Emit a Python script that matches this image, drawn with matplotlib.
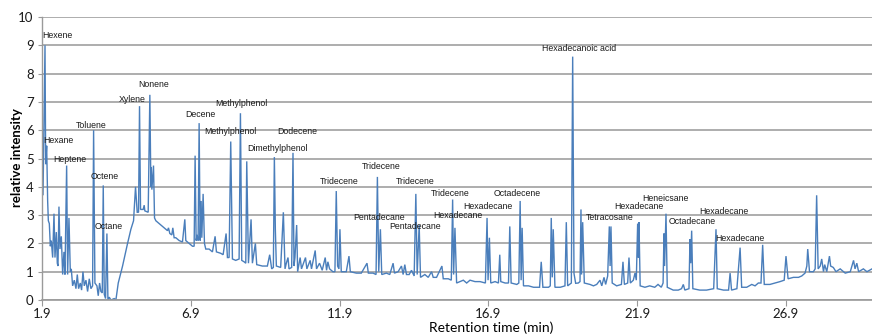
import matplotlib
matplotlib.use("Agg")
import matplotlib.pyplot as plt

# ---------------- data ----------------
retention_time = [
    1.900, 1.934, 2.001, 2.023, 2.057, 2.090, 2.113, 2.146, 2.180, 2.213, 2.258, 2.303, 2.336, 2.381,
    2.414, 2.437, 2.470, 2.504, 2.549, 2.594, 2.638, 2.672, 2.728, 2.761, 2.806, 2.851, 2.884, 2.929,
    2.985, 3.041, 3.086, 3.130, 3.186, 3.231, 3.276, 3.321, 3.377, 3.432, 3.488, 3.544, 3.600, 3.634,
    3.678, 3.746, 3.790, 3.835, 3.880, 3.925, 3.958, 3.992, 4.036, 4.081, 4.115, 4.160, 4.215, 4.327,
    4.383, 4.462, 4.607, 4.775, 4.887, 4.976, 5.043, 5.099, 5.144, 5.177, 5.211, 5.300, 5.334, 5.356,
    5.468, 5.524, 5.558, 5.569, 5.592, 5.647, 5.681, 5.726, 5.837, 5.949, 6.061, 6.117, 6.150, 6.195,
    6.262, 6.296, 6.340, 6.397, 6.509, 6.620, 6.699, 6.732, 6.844, 6.956, 7.012, 7.045, 7.079, 7.113,
    7.146, 7.180, 7.214, 7.247, 7.270, 7.314, 7.359, 7.403, 7.515, 7.627, 7.717, 7.761, 7.907, 7.986,
    8.086, 8.131, 8.187, 8.242, 8.299, 8.410, 8.523, 8.568, 8.612, 8.691, 8.747, 8.780, 8.837, 8.925,
    8.970, 9.070, 9.115, 9.305, 9.473, 9.551, 9.618, 9.674, 9.708, 9.741, 9.775, 9.920, 10.010, 10.066,
    10.110, 10.166, 10.200, 10.289, 10.334, 10.368, 10.400, 10.457, 10.490, 10.574, 10.620, 10.754,
    10.800, 10.911, 10.956, 11.080, 11.125, 11.226, 11.316, 11.417, 11.462, 11.507, 11.563, 11.675,
    11.743, 11.788, 11.833, 11.878, 11.911, 11.956, 12.125, 12.215, 12.260, 12.462, 12.630, 12.821,
    12.866, 13.024, 13.125, 13.170, 13.215, 13.271, 13.316, 13.473, 13.586, 13.698, 13.743, 13.866,
    13.979, 14.035, 14.091, 14.147, 14.237, 14.316, 14.406, 14.462, 14.507, 14.574, 14.619, 14.765,
    14.878, 14.990, 15.046, 15.158, 15.338, 15.383, 15.552, 15.653, 15.698, 15.731, 15.776, 15.832,
    16.057, 16.170, 16.282, 16.451, 16.619, 16.799, 16.855, 16.889, 16.934, 16.979, 17.125, 17.237,
    17.282, 17.316, 17.462, 17.575, 17.619, 17.664, 17.855, 17.922, 17.967, 18.000, 18.034, 18.079,
    18.248, 18.417, 18.619, 18.675, 18.731, 18.922, 18.979, 19.012, 19.046, 19.079, 19.136, 19.316,
    19.473, 19.518, 19.563, 19.687, 19.732, 19.776, 19.832, 19.920, 19.978, 20.011, 20.030, 20.068,
    20.123, 20.314, 20.430, 20.539, 20.650, 20.710, 20.785, 20.840, 20.908, 20.963, 20.990, 21.019,
    21.060, 21.210, 21.370, 21.422, 21.470, 21.580, 21.624, 21.670, 21.770, 21.826, 21.870, 21.915,
    21.940, 21.960, 22.000, 22.160, 22.320, 22.490, 22.600, 22.710, 22.770, 22.800, 22.820, 22.868,
    22.910, 23.110, 23.280, 23.390, 23.450, 23.500, 23.640, 23.674, 23.700, 23.730, 23.770, 24.000,
    24.230, 24.470, 24.514, 24.548, 24.590, 24.800, 24.970, 25.022, 25.070, 25.250, 25.320, 25.358,
    25.410, 25.580, 25.750, 25.860, 25.970, 26.060, 26.116, 26.170, 26.360, 26.530, 26.700, 26.840,
    26.900, 26.970, 27.150, 27.320, 27.430, 27.540, 27.600, 27.630, 27.690, 27.820, 27.880, 27.930,
    27.980, 28.050, 28.100, 28.160, 28.200, 28.270, 28.360, 28.400, 28.490, 28.580, 28.720, 28.890,
    29.060, 29.170, 29.220, 29.280, 29.340, 29.500, 29.620, 29.790,
]
relative_intensity = [
    5.75, 3.70, 9.00, 4.80, 5.45, 3.50, 2.80, 2.70, 1.90, 2.10, 1.50, 3.05, 1.50, 2.40,
    1.30, 1.20, 3.30, 1.80, 2.25, 0.90, 1.70, 0.90, 4.75, 0.90, 2.90, 1.00, 1.10, 0.50,
    0.70, 0.40, 0.90, 0.40, 0.60, 0.35, 1.00, 0.50, 0.70, 0.30, 0.75, 0.40, 0.50, 6.00,
    0.60, 0.50, 0.15, 0.60, 0.30, 0.25, 4.05, 0.20, 0.05, 2.35, 0.00, 0.10, 0.00, 0.05,
    0.00, 0.60, 1.20, 2.00, 2.50, 2.80, 4.00, 3.10, 3.10, 6.85, 3.20, 3.20, 3.35, 3.15,
    3.10, 7.25, 4.00, 4.70, 3.90, 4.75, 2.90, 2.80, 2.70, 2.60, 2.50, 2.45, 2.55, 2.35,
    2.30, 2.55, 2.20, 2.20, 2.10, 2.05, 2.85, 2.10, 2.00, 1.90, 1.90, 5.10, 2.10, 2.30,
    2.10, 6.25, 2.10, 3.50, 2.20, 3.75, 2.00, 1.80, 1.80, 1.70, 2.25, 1.70, 1.65, 1.60,
    2.35, 1.50, 1.50, 5.60, 1.45, 1.40, 1.45, 6.60, 1.40, 1.35, 1.30, 4.90, 1.30, 2.85,
    1.30, 2.00, 1.25, 1.20, 1.20, 1.60, 1.10, 1.15, 5.05, 2.50, 1.20, 1.15, 3.10, 1.10,
    1.30, 1.50, 1.10, 1.15, 5.20, 1.20, 1.50, 2.65, 1.00, 1.50, 1.10, 1.50,
    1.10, 1.40, 1.10, 1.75, 1.10, 1.30, 1.05, 1.50, 1.05, 1.35, 1.10, 1.00,
    1.00, 3.85, 1.20, 1.10, 2.50, 1.00, 1.00, 1.55, 1.00, 0.95, 0.95, 1.30,
    0.95, 0.95, 0.90, 4.35, 1.00, 2.50, 0.90, 0.95, 0.90, 1.30, 0.95, 1.00,
    1.20, 0.90, 1.25, 0.90, 0.90, 1.05, 0.85, 3.75, 0.90, 2.65, 0.80, 0.90,
    0.80, 1.00, 0.80, 0.80, 1.20, 0.75, 0.75, 0.70, 3.55, 0.90, 2.55, 0.60,
    0.70, 0.60, 0.70, 0.65, 0.65, 0.60, 2.90, 0.70, 2.20, 0.60, 0.65, 0.60,
    1.60, 0.65, 0.60, 0.60, 2.60, 0.60, 0.55, 0.60, 3.50, 0.70, 2.55, 0.50,
    0.50, 0.45, 0.45, 1.35, 0.45, 0.45, 0.50, 2.90, 0.80, 2.50, 0.45, 0.45,
    0.50, 2.75, 0.50, 0.60, 8.60, 0.94, 0.59, 0.60, 0.65, 3.20, 0.90, 2.75,
    0.60, 0.55, 0.50, 0.55, 0.70, 0.50, 0.80, 0.55, 0.85, 2.60, 1.20, 2.60,
    0.60, 0.50, 0.55, 1.35, 0.55, 0.60, 1.50, 0.60, 0.70, 0.95, 0.70, 2.70,
    1.50, 2.75, 0.50, 0.45, 0.50, 0.45, 0.55, 0.45, 0.60, 2.35, 1.20, 3.05,
    0.45, 0.35, 0.35, 0.40, 0.55, 0.35, 0.40, 2.15, 1.30, 2.45, 0.40, 0.35,
    0.35, 0.40, 1.60, 2.50, 0.40, 0.35, 0.35, 0.95, 0.35, 0.40, 1.35, 1.85,
    0.45, 0.45, 0.55, 0.50, 0.60, 0.60, 1.95, 0.55, 0.55, 0.60, 0.65, 0.70,
    1.55, 0.75, 0.80, 0.80, 0.85, 0.95, 1.20, 1.80, 1.00, 1.00, 1.10, 3.70,
    1.10, 1.20, 1.45, 1.00, 1.25, 1.00, 1.55, 1.20, 1.15, 1.00, 1.10, 0.95,
    1.00, 1.40, 1.10, 1.30, 1.00, 1.10, 1.00, 1.10,
]

peak_names = [
    "Hexene", "Hexane", "Heptene", "Toluene", "Octene", "Octane", "Xylene", "Nonene",
    "Decene", "Methylphenol", "Methylphenol", "Dimethylphenol", "Dodecene",
    "Tridecene", "Tridecene", "Pentadecane", "Tridecene", "Pentadecane", "Tridecene",
    "Hexadecane", "Hexadecane", "Octadecene", "Hexadecanoic acid", "Tetracosane",
    "Hexadecane", "Heneicsane", "Octadecane", "Hexadecane", "Hexadecane",
]
# label anchor (centre) positions in data coordinates
label_x = [2.42, 2.44, 2.82, 3.55, 4.00, 4.15, 4.94, 5.66, 7.23, 8.59, 8.22, 9.80, 10.49,
           11.90, 13.31, 13.21, 14.45, 14.45, 15.61, 15.86, 16.87, 17.88, 19.96, 20.97,
           21.94, 22.85, 23.74, 24.80, 25.35]
label_y = [9.36, 5.65, 4.98, 6.15, 4.35, 2.61, 7.10, 7.63, 6.54, 6.93, 5.94, 5.34, 5.94,
           4.17, 4.70, 2.90, 4.17, 2.61, 3.78, 3.00, 3.29, 3.78, 8.90, 2.93,
           3.29, 3.57, 2.76, 3.14, 2.19]

x_ticks = [1.9, 6.9, 11.9, 16.9, 21.9, 26.9]
x_tick_labels = ["1.9", "6.9", "11.9", "16.9", "21.9", "26.9"]
y_ticks = [0, 1, 2, 3, 4, 5, 6, 7, 8, 9, 10]

# ---------------- figure ----------------
W, H = 872, 336
fig = plt.figure(figsize=(W / 100, H / 100), dpi=100)
ax = fig.add_axes([42 / W, (H - 300) / H, (W - 42) / W, (300 - 17) / H])

ax.plot(retention_time, relative_intensity, color="#4a7ebb", lw=1.0, solid_joinstyle="miter")

ax.set_xlim(1.9, 29.79)
ax.set_ylim(0, 10)
ax.set_xticks(x_ticks)
ax.set_xticklabels(x_tick_labels)
ax.set_yticks(y_ticks)

tick_font = "Lato"
for lab in ax.get_xticklabels() + ax.get_yticklabels():
    lab.set_fontfamily(tick_font)
    lab.set_fontsize(9.5)
    lab.set_color("#1a1a1a")

ax.grid(axis="y", color="#a0a0a0", lw=1.2)
ax.grid(axis="x", visible=False)
ax.set_axisbelow(True)
for s in ["top", "right"]:
    ax.spines[s].set_visible(False)
ax.spines["left"].set_color("#9a9a9a")
ax.spines["bottom"].set_color("#9a9a9a")
ax.spines["left"].set_linewidth(1.0)
ax.spines["bottom"].set_linewidth(1.2)
ax.tick_params(axis="x", direction="out", length=4, color="#9a9a9a", pad=2)
ax.tick_params(axis="y", direction="out", length=3, color="#9a9a9a", pad=3)

for name, lx, ly in zip(peak_names, label_x, label_y):
    ax.text(lx, ly, name, ha="center", va="center", fontsize=6.3,
            family="Liberation Sans", color="#1a1a1a")

fig.text(491 / W, 1 - 328 / H, "Retention time (min)", ha="center", va="center",
         family=tick_font, fontsize=10)
fig.text(17 / W, 1 - 158 / H, "relative intensity", ha="center", va="center",
         rotation=90, family=tick_font, fontweight="bold", fontsize=9.5)

fig.savefig("out.png", dpi=100)
